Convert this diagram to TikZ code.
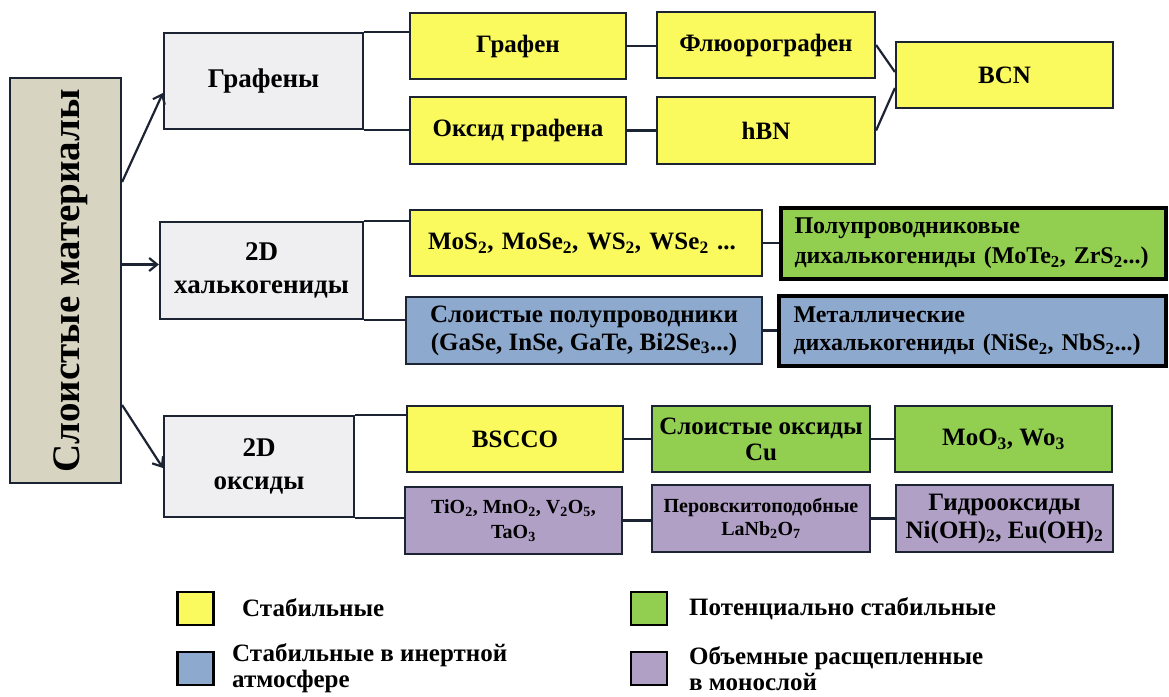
\documentclass[tikz,border=0pt]{standalone}
\usepackage{fontspec}
\setmainfont{Liberation Serif}
\usetikzlibrary{arrows.meta,calc}
\definecolor{cyel}{RGB}{250,250,95}
\definecolor{cgrn}{RGB}{146,206,80}
\definecolor{cblu}{RGB}{142,169,206}
\definecolor{cpur}{RGB}{176,160,198}
\definecolor{cgry}{RGB}{239,239,241}
\definecolor{cbei}{RGB}{216,212,194}
\definecolor{cline}{RGB}{28,36,52}
\newcommand{\fs}[2]{\fontsize{#1}{#2}\selectfont}
\newcommand{\sbs}[1]{\textsubscript{#1}}
\begin{document}
\begin{tikzpicture}[x=1pt,y={(0pt,-1pt)},
  box/.style={draw=cline, line width=2.2pt, inner sep=0pt, align=center, font=\bfseries\fs{25}{28}},
  catbox/.style={box, fill=cgry, font=\bfseries\fs{27}{33}},
  ybox/.style={box, fill=cyel},
  gbox/.style={box, fill=cgrn},
  bbox/.style={box, fill=cblu},
  pbox/.style={box, fill=cpur},
  heavy/.style={draw=black, line width=3.2pt},
  conn/.style={draw=cline, line width=2.2pt},
  arr/.style={draw=cline, line width=2.2pt, -{Straight Barb[length=8pt,width=13pt]}},
  legsq/.style={draw=black, line width=2.6pt, minimum width=36pt, minimum height=33pt, inner sep=0pt},
  legtxt/.style={anchor=west, align=left, inner sep=0pt, font=\bfseries\fs{25}{26}}
]
\useasboundingbox (0,0) rectangle (1169,696);
\fill[white] (0,0) rectangle (1169,696);

% main box
\node[box, fill=cbei, minimum width=111pt, minimum height=405pt] (main) at (65.5,280.5) {};
\node[rotate=90, inner sep=0pt, font=\bfseries\fs{39}{40}] (mainlabel) at (71,281) {\bfseries Слоистые материалы};

% category boxes
\node[catbox, minimum width=199pt, minimum height=96pt] (graph) at (263.5,81) {Графены};
\node[catbox, minimum width=203pt, minimum height=97pt] (chalc) at (261.5,270.5) {2D\\халькогениды};
\node[catbox, minimum width=190pt, minimum height=101pt] (oxid) at (259,466.5) {2D\\оксиды};

% graphene row
\node[ybox, minimum width=216pt, minimum height=66pt] (grafen) at (518,46) {Графен};
\node[ybox, minimum width=216pt, minimum height=67pt] (oksid) at (518,130.5) {Оксид графена};
\node[ybox, minimum width=218pt, minimum height=66pt] (fluoro) at (766,45) {Флюорографен};
\node[ybox, minimum width=218pt, minimum height=67pt] (hbn) at (766,130.5) {hBN};
\node[ybox, minimum width=217pt, minimum height=66pt] (bcn) at (1004.5,75) {BCN};

% chalcogenide row
\node[ybox, minimum width=352pt, minimum height=66pt, align=left, text width=316pt] (mos) at (586,243)
  {MoS\sbs{2}, MoSe\sbs{2}, WS\sbs{2}, WSe\sbs{2} ...};
\node[bbox, minimum width=356pt, minimum height=67pt] (slo) at (584,330.5)
  {Слоистые полупроводники\\(GaSe, InSe, GaTe, Bi2Se\sbs{3}...)};
\node[gbox, heavy, minimum width=385pt, minimum height=71pt, align=left, text width=358pt, font=\bfseries\fs{24}{30}] (semi) at (973.5,243.5)
  {Полупроводниковые\\дихалькогениды (MoTe\sbs{2}, ZrS\sbs{2}...)};
\node[bbox, heavy, minimum width=387pt, minimum height=70pt, align=left, text width=358pt, font=\bfseries\fs{24}{28}] (metal) at (972.5,331)
  {Металлические\\дихалькогениды (NiSe\sbs{2}, NbS\sbs{2}...)};

% oxide row
\node[ybox, minimum width=216pt, minimum height=66pt] (bscco) at (515,439) {BSCCO};
\node[pbox, minimum width=217pt, minimum height=67pt, font=\bfseries\fs{20}{25}] (tio) at (513.5,520.5)
  {TiO\sbs{2}, MnO\sbs{2}, V\sbs{2}O\sbs{5},\\TaO\sbs{3}};
\node[gbox, minimum width=218pt, minimum height=66pt, font=\bfseries\fs{25}{26}] (layox) at (761,439) {Слоистые оксиды\\Cu};
\node[pbox, minimum width=218pt, minimum height=67pt, font=\bfseries\fs{20}{23}] (perov) at (761,518.5)
  {Перовскитоподобные\\LaNb\sbs{2}O\sbs{7}};
\node[gbox, minimum width=217pt, minimum height=66pt] (moo) at (1003.5,439) {MoO\sbs{3}, Wo\sbs{3}};
\node[pbox, minimum width=217pt, minimum height=67pt] (hydro) at (1004.5,518.5)
  {Гидрооксиды\\Ni(OH)\sbs{2}, Eu(OH)\sbs{2}};

% arrows from main
\draw[arr] ([yshift=98.5pt]main.east) -- ([yshift=-12pt]graph.west);
\draw[arr] ([yshift=16pt]main.east) -- ([yshift=6pt]chalc.west);
\draw[arr] ([yshift=-124.5pt]main.east) -- ([yshift=-1.5pt]oxid.west);

% brackets
\draw[conn] (graph.north east) -- (graph.north east -| grafen.west);
\draw[conn] (graph.south east) -- (graph.south east -| oksid.west);
\draw[conn] (chalc.north east) -- (chalc.north east -| mos.west);
\draw[conn] (chalc.south east) -- (chalc.south east -| slo.west);
\draw[conn] (oxid.north east) -- (oxid.north east -| bscco.west);
\draw[conn] (oxid.south east) -- (oxid.south east -| tio.west);

% horizontal connectors
\draw[conn] (grafen.east) -- (grafen.east -| fluoro.west);
\draw[conn] (oksid.east) -- (oksid.east -| hbn.west);
\draw[conn] (fluoro.east) -- ([yshift=3pt]bcn.west);
\draw[conn] (hbn.east) -- ([yshift=-13pt]bcn.west);
\draw[conn] (mos.east) -- (mos.east -| semi.west);
\draw[conn] (slo.east) -- (slo.east -| metal.west);
\draw[conn] (bscco.east) -- (bscco.east -| layox.west);
\draw[conn] (tio.east) -- (tio.east -| perov.west);
\draw[conn] (layox.east) -- (layox.east -| moo.west);
\draw[conn] (perov.east) -- (perov.east -| hydro.west);

% legend
\node[legsq, fill=cyel] (lyel) at (195.5,608.5) {};
\node[legsq, fill=cblu] (lblu) at (195.5,668.5) {};
\node[legsq, fill=cgrn] (lgrn) at (649,608.5) {};
\node[legsq, fill=cpur] (lpur) at (649,668.5) {};
\node[legtxt] (tyel) at (242,608) {Стабильные};
\node[legtxt] (tblu) at (232,668) {Стабильные в инертной\\атмосфере};
\node[legtxt] (tgrn) at (689,609) {Потенциально стабильные};
\node[legtxt] (tpur) at (689,669) {Объемные расщепленные\\в монослой};
\end{tikzpicture}
\end{document}
